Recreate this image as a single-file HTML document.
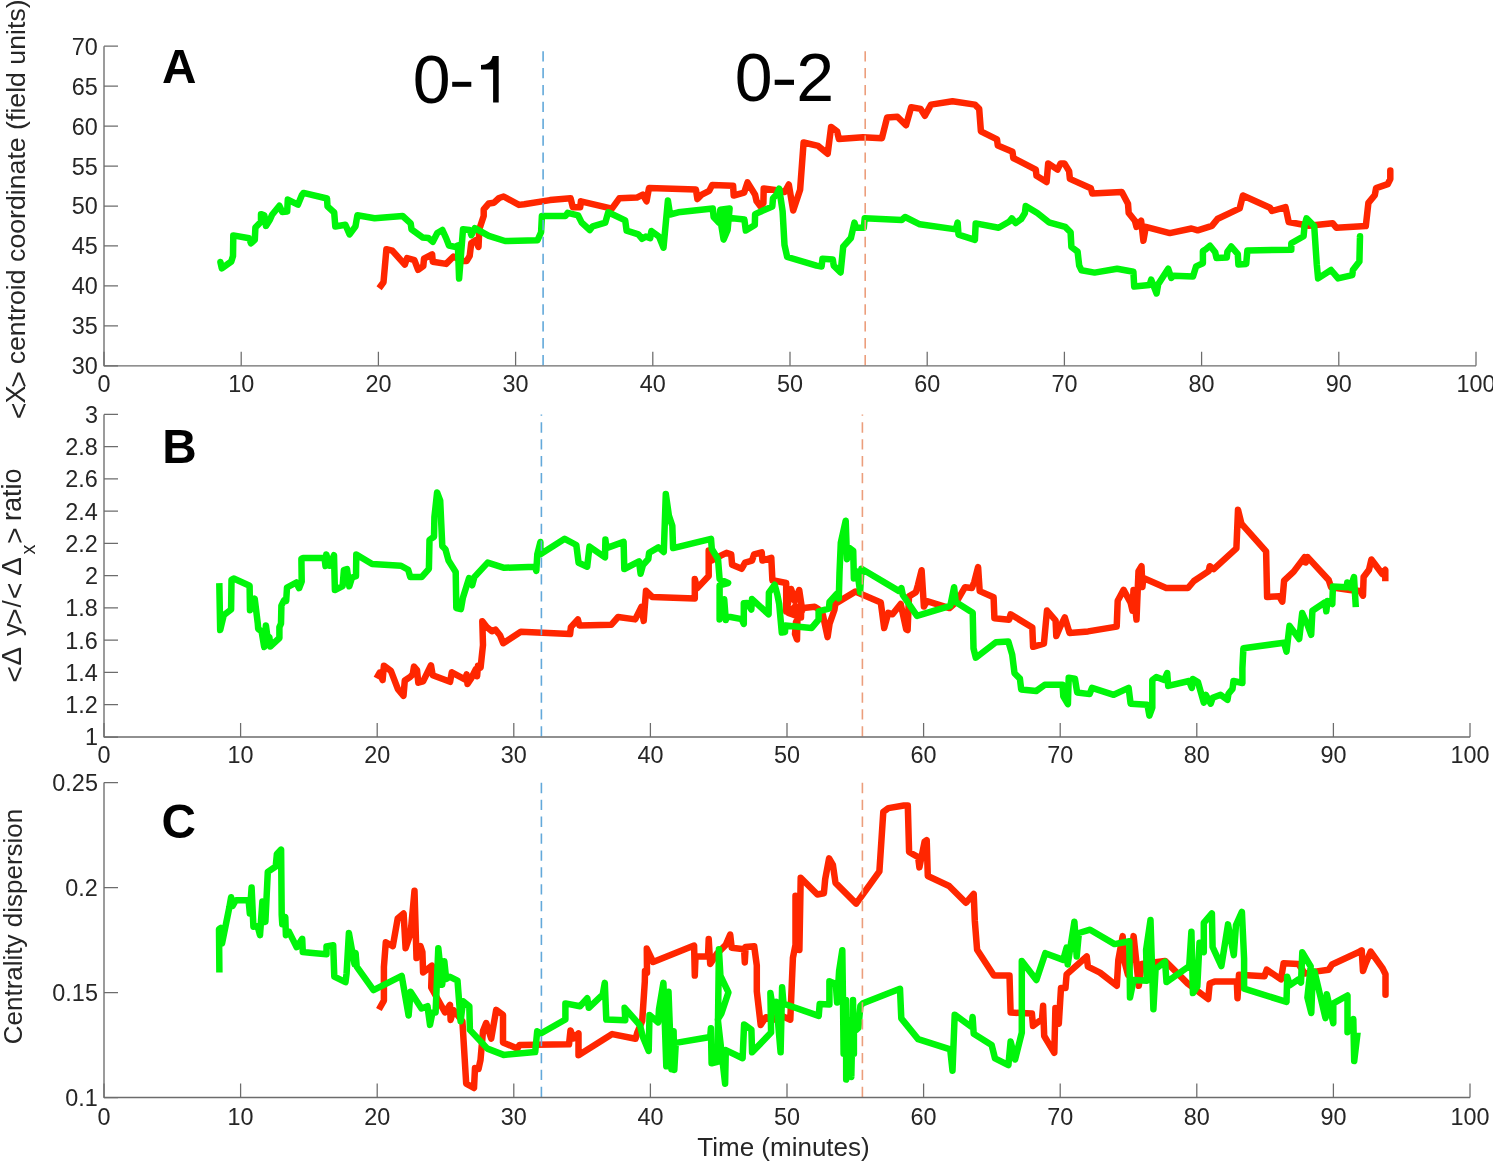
<!DOCTYPE html>
<html><head><meta charset="utf-8"><title>Figure</title>
<style>
html,body{margin:0;padding:0;background:#fff;}
body{width:1493px;height:1162px;overflow:hidden;}
svg{display:block;}
.t{opacity:0.999;}
text{font-family:"Liberation Sans",sans-serif;}
.tk{font-size:23.4px;fill:#262626;}
.ttl{font-size:26px;fill:#262626;}
</style></head><body>
<svg width="1493" height="1162" viewBox="0 0 1493 1162">
<rect width="1493" height="1162" fill="#fff"/>

<polyline points="379.1,288.2 383.5,282.3 386.4,249.2 392.3,250.6 404.8,264.6 407.1,258.0 414.4,260.2 418.1,269.8 423.3,266.1 424.0,258.7 432.1,254.3 432.8,261.7 446.1,263.9 453.5,256.5 462,261 466.7,261.0 469.7,255.8 471.2,243.3 475.6,240.3 478.5,246.9 479.3,229.3 483.7,216.0 483.7,209.4 488.8,203.5 494.0,202.7 499.1,198.0 503.6,196.5 519.0,204.9 524.2,204.2 550,200.1 570.6,198.3 572.8,207.2 580.2,207.2 580.9,201.3 611.9,208.6 619.3,198.3 636.9,197.6 642.8,194.6 646.5,201.3 649.0,188.0 695.9,189.5 697.4,199.1 701.8,194.6 709.2,190.9 712.1,185.1 733.1,185.8 733.7,195.5 744.1,192.7 747.5,182.4 755.1,194.8 756.5,201.0 760.6,206.5 763.4,203.1 763.7,188.6 775.1,190.0 784.7,192.0 788.8,184.5 793.2,210.5 800.1,189.8 803.6,142.5 818.2,145.9 827.7,153.7 831.1,127.0 837.1,131.3 838.9,139.1 863.0,137.3 881.9,138.2 887.1,117.5 897.4,116.7 906.0,125.3 911.2,107.2 920.6,108.9 924.9,115.8 931.0,104.6 952.5,101.2 974.9,104.6 979.2,108.9 980.9,131.3 997.0,139.4 997.8,145.6 1012.5,151.8 1013.3,158.0 1035.8,169.6 1036.5,175.8 1046.6,182.0 1048.2,163.4 1057.5,169.6 1060.6,163.4 1064.4,163.4 1069.1,171.1 1069.9,178.9 1090.8,188.2 1092.3,193.6 1121.8,192.0 1128.0,203.7 1128.7,213.0 1134.9,220.7 1136.5,226.9 1141.1,220.7 1143.4,240.8 1145.8,226.9 1169.8,233.1 1191.5,228.5 1197.7,230.3 1211.9,225.8 1217.8,218.7 1239.7,208.4 1242.9,195.5 1270.0,207.8 1272.0,211.0 1285.5,207.1 1288.7,222.0 1308.8,225.8 1332.6,223.2 1336.5,227.8 1365.8,226.1 1368.4,202.9 1374.8,195.2 1376.1,188.1 1387.7,184.2 1390.3,179.0 1390.3,170.4 1390.3,171.4" fill="none" stroke="#ff2600" stroke-width="6.5" stroke-linejoin="round" stroke-linecap="butt"/>
<polyline points="220.7,263.6 220.4,262.0 221.8,268.4 231.3,261.5 233.0,256.1 233.3,235.4 249.2,238.2 250.9,243.3 254.8,239.9 255.4,227.6 261.0,221.7 261.0,214.2 264.3,215.3 266.0,225.9 269.9,219.8 272.1,214.7 279.4,205.8 282.2,211.9 287.2,211.4 287.8,199.6 297.9,204.7 301.8,195.2 303.5,192.9 327.0,198.5 327.5,206.4 334.2,212.5 335.3,226.5 345.4,224.8 349.6,234.4 355.5,226.3 357.4,215.3 374.6,218.2 402.6,216.0 410.7,223.4 411.5,229.3 422.5,237.4 428.4,238.1 432.8,241.8 437.3,233.0 442.4,230.0 446.1,238.1 449.0,245.5 454.9,246.9 457.9,245.5 459.1,278.6 463.0,229.3 469.7,230.0 471.4,235.2 474.8,228.1 488.8,235.9 505.0,241.0 537.5,240.3 541.1,232.2 541.9,216.0 565.5,216.0 567.7,212.8 578.0,215.3 581.7,222.6 589.8,230.0 592.7,226.3 605.3,222.6 608.2,212.3 625.2,220.4 626.6,230.7 638.4,234.4 642.1,238.8 645.8,236.6 650.2,238.1 651.4,231.0 659.0,236.6 663.5,247.7 667.9,200.5 670.1,214.5 678.2,212.3 712.8,208.6 713.6,217.0 718.8,222.6 720.3,209.6 729.6,208.4 727.6,230 723.6,239.6 721.4,226 724.5,214 727.8,217.8 744.4,219.6 745.8,230.6 754.8,225.1 755.1,214.1 772.3,206.5 773.0,198.2 776.4,194.8 779.2,188.6 782.6,211.3 784.5,245 787.2,257.0 816.5,265.6 821.6,266.5 822.5,258.7 832.8,259.6 833.7,265.6 840.6,272.5 843.2,246.7 850.9,238.0 854.4,222.6 856.1,227.7 863.8,227.7 864.7,218.2 901.7,220.0 905.1,217.0 919.8,224.3 955.9,229.4 957.6,222.6 958.5,234.6 974.9,239.8 975.7,223.4 998.6,227.7 1009.4,221.5 1011.8,218.4 1015.6,223.0 1021.1,219.2 1024.9,213.0 1025.7,206.0 1037.3,213.0 1048.9,222.3 1065.2,226.9 1070.6,232.3 1071.4,247.0 1077.6,251.7 1079.2,265.6 1081.5,270.3 1094.6,272.6 1117.1,268.7 1133.4,271.8 1134.2,286.6 1149.6,285.0 1151.2,279.6 1156.6,293.5 1158.2,284.2 1168.2,268.7 1171.3,278.0 1173.7,275.7 1193.0,276.5 1196.1,266.4 1202.9,263.3 1202.9,251.0 1206.1,249.1 1210.0,245.8 1215.2,252.3 1216.5,258.1 1226.8,257.5 1227.4,251.6 1231.3,246.5 1237.8,254.2 1238.4,264.6 1246.2,263.9 1247.4,250.4 1291.3,249.7 1291.3,243.3 1303.6,236.2 1304.5,226 1306.5,218.4 1314.2,226.1 1316.8,264.8 1318.1,278.4 1331.0,270.0 1338.1,278.4 1352.3,275.2 1352.9,270.0 1359.4,261.6 1360.0,236.3 1359.9,237.3" fill="none" stroke="#00f50a" stroke-width="6.5" stroke-linejoin="round" stroke-linecap="butt"/>
<polyline points="376.5,678.3 379.6,672.7 382.6,680.1 383.9,665.7 390.9,670.9 397.9,689.2 403.5,695.8 404.8,680.5 410.1,677.0 412.7,674.4 414.0,666.6 417.0,670.1 418.3,682.7 423.1,681.4 431.0,665.3 432.7,675.3 450.1,681.8 451.8,672.3 465.3,679.7 466.6,674.4 467.5,684.0 471.0,678.8 475.8,669.2 477.1,676.2 478.0,665.7 480.6,667.5 483.0,645.0 482.3,621.3 486.7,627.0 491.9,631.3 495.4,629.6 500,635.3 503.2,643.2 520.8,631.8 570.1,634.1 570.9,627.1 577.9,619.4 579.4,625.6 611.2,624.8 618.1,617.0 635.2,619.4 641.4,607.0 643.7,620.9 646.0,590.7 652.2,596.9 694.8,598.5 694.8,579.1 697.1,588.4 708.7,576.0 708.7,550.5 711.8,560.5 720.3,555.9 726.5,552.8 731.2,554.3 732.1,564.7 741.7,568.8 745.1,562.6 752.0,560.6 754.1,554.4 761.7,552.3 762.4,560.6 771.3,557.8 772.4,580.3 786.2,583.0 786.2,611.5 791.1,589.0 794.8,601 799.2,590.0 801.3,604 801.0,617.5 788.5,613 795.5,606 797.5,616 797.0,639.5 795.0,634 796,622 803.5,608 814.7,606.8 817.9,608.7 822.8,614.5 827.6,637.1 829.6,623.6 834.4,610.0 835.4,603.6 855.3,591.6 880.8,602.6 884.2,628.0 888.3,612.9 892.5,614.3 900.7,604.0 906.2,629.4 907.6,630.1 909.0,596.4 915.9,592.2 917.9,585 921.6,570.2 923.9,606.6 927.0,601.2 949.5,608.1 956.5,601.9 965.0,587.2 971.9,588.0 974.3,581.8 978.1,567.1 979.7,591.1 993.6,597.3 994.4,618.2 1009.1,619.7 1010.6,614.3 1032.3,627.5 1033.1,646.8 1043.9,643.7 1047.0,610.5 1055.6,620.5 1056.3,636.0 1060.2,626.7 1064.8,617.4 1069.5,632.9 1088.1,631.4 1116.7,626.6 1117.7,600.8 1123.6,589.9 1130.6,602.8 1132.5,610.7 1133.5,589.9 1136.5,619.6 1138.5,571.1 1141.5,566.2 1142.4,587.0 1143.4,578.1 1166.2,588.0 1188.0,588.0 1193.9,581.0 1208.7,571.1 1209.7,566.2 1213.7,569.2 1236.4,548.4 1238.0,509.8 1241.4,523.6 1266.1,551.3 1267.1,596.9 1279.3,596.3 1282.3,601.7 1284.1,580.6 1293.7,571.6 1304.6,557.1 1305.8,562.5 1307.6,557.1 1328.7,580.0 1331.1,587.2 1350,590 1360,591 1363.0,595.7 1363.6,577.0 1369.0,569.8 1371.4,559.5 1382.3,574.0 1385.3,569.8 1385.3,581.2" fill="none" stroke="#ff2600" stroke-width="6.5" stroke-linejoin="round" stroke-linecap="butt"/>
<polyline points="219.3,583.1 220.2,630.1 223.8,615.1 227.2,612.5 231.1,609.5 231.5,579.8 233.7,578.5 249.6,585.8 250.0,610.3 254.7,598.7 257.8,623.7 258.2,628.8 261.6,631.4 264.2,647.0 265.9,625.4 267.3,635.7 269.4,637.3 270.2,646.5 279.4,638.0 279.4,627.1 281.0,623.7 281.4,605.6 284.0,600.4 286.2,600.9 287.0,587.5 296.3,582.5 299.1,588.2 301.7,581.5 301.4,558.8 303.1,558.1 324.5,557.7 325.5,566.1 326.3,554.5 329.5,565.8 334.0,555.2 334.9,590.0 342.6,586.2 343.9,570.1 347.0,569.1 349.3,586.2 352.0,577.5 356.0,576.2 356.3,554.4 372.1,564.1 401.0,565.7 408.2,569.8 410.3,577.1 421.6,577.1 428.9,568.8 429.5,539.9 434.0,536.8 434.4,517.2 437.1,492.4 440.2,500.7 442.3,546.1 445.4,549.2 448.5,560.5 455.7,571.9 456.3,608.0 460.9,609.1 462.9,597.7 469.1,578.1 472.2,585.3 474.3,577.1 487.7,562.6 504.2,567.8 535.2,566.7 536.3,570.9 537.3,554.3 540.4,542.0 540.4,554.3 564.7,538.8 576.3,545.0 578.6,562.8 587.2,566.7 589.5,546.6 605.0,557.4 605.4,539.6 606.5,548.1 623.6,541.9 624.3,569.0 639.0,561.3 640.6,573.7 642.9,565.2 648.3,559.0 649.1,552.8 658.4,547.4 663.8,552.0 665.8,493.9 668.9,515.6 672.3,525.7 673.1,548.1 711.0,538.8 711.8,548.9 718.0,559.0 719.6,579.1 728.1,583.0 719.6,585.3 719.6,619.4 724.2,599.2 725.8,620.1 726.5,616.3 741.7,619.1 743.8,623.9 743.8,603.3 747,603 751.3,609.5 752.0,599.1 768.6,614.3 768.9,592.6 774.7,584.8 777.3,594.5 779.2,604.2 781.8,632.6 785.0,632 785.3,625.5 811.5,628.1 818.6,619.7 818.6,611.3 828.9,608.7 829.5,602 836.7,593.9 838.8,598.4 839.5,573.0 840.8,542.7 845.7,520.7 847.0,559.2 849.8,548.2 853.2,550.9 853.9,578.5 857.4,571.6 860.1,592.2 861.5,568.8 898.7,590.9 901.4,588.1 902.8,595.0 917.0,615.9 950.3,605.8 954.1,587.2 955.7,601.9 972.7,612.8 973.5,648.4 975.8,657.7 995.9,642.2 1008.3,641.4 1012.2,654.6 1014.5,673.2 1019.9,678.6 1021.2,689.4 1036.2,691.0 1044.7,684.8 1062.5,684.8 1063.3,696.4 1067.9,704.1 1068.7,677.8 1074.9,678.6 1077.2,692.5 1089.6,694.1 1092.0,687.9 1113.7,694.8 1128.6,687.9 1130.6,703.7 1147.4,704.7 1149.4,715.6 1152.3,707.7 1152.3,680.0 1156.3,677.0 1164.2,680.0 1167.2,673.1 1168.2,685.9 1189.0,681.0 1191.9,687.9 1192.9,679.0 1197.9,682.0 1203.8,702.7 1205.8,694.8 1210.7,703.7 1212.7,697.8 1220.6,694.8 1227.5,699.8 1228.5,693.8 1232.5,688.9 1233.5,681.0 1242.4,683.0 1242.4,668.1 1243.4,648.3 1284.1,642.7 1286.5,651.7 1289.5,625.8 1299.2,639.0 1302.2,613.1 1307.6,625.2 1311.2,634.8 1312.4,610.7 1325.1,602.3 1326.3,611.3 1327.5,601.1 1332.3,604.1 1332.9,586.6 1346.7,587.2 1347.3,582.4 1350.4,587.8 1354.0,577.0 1355.8,607.1" fill="none" stroke="#00f50a" stroke-width="6.5" stroke-linejoin="round" stroke-linecap="butt"/>
<polyline points="378.9,1009.5 383.9,1000.6 383.9,967.0 385.8,942.2 392.8,946.2 397.7,918.5 403.6,913.5 405.6,948.2 410.6,933.3 414.5,890.8 416.5,958.1 420.5,946.2 422.4,952.1 423.1,972.5 431.9,965.6 431.2,987.5 445.0,1012.4 450.0,1004.9 450.6,1019.9 453.5,1010 462.4,1021.2 466.2,1083.6 474,1088 475,1068 478.5,1069 480.5,1060 483,1031 486.2,1023 491.2,1038.6 496.2,1009.9 503,1014.9 503,1042.4 517.4,1048.6 519.4,1045.1 569.0,1044.3 570.5,1030.4 573.4,1038.5 578.5,1033.4 578.5,1055.3 612.2,1034.1 635.5,1038.8 637.5,1032 642.2,1021 644.8,981.7 645.0,971 647.0,973 646.8,948.6 653.1,962.0 694.1,945.6 694.8,975.6 695.5,956.6 708.0,956.6 708.7,939.0 710.2,963.9 717.0,953.6 725.8,944.9 730.2,934.6 731.7,947.8 744.1,949.2 744.8,962.4 745.6,947.0 754.2,946.2 756.8,965.5 756.8,991.3 760.7,1024.9 765.8,1017.2 773.6,1019.7 778.7,1014.6 790.3,1019.7 792.9,957.8 795.5,944.9 795.5,895.8 799.4,950.0 800.7,877.8 817.4,894.5 823.9,893.3 825.2,879.1 829.1,858.4 832.9,864.9 835.5,882.9 856.2,903.6 879.4,871.3 883.3,811.9 888.4,808.1 903.9,805.5 907.8,805.5 909.1,852.0 918.1,857.1 919.4,867.4 924.6,841.6 926.7,840.1 927.8,876.0 949.1,886.0 965.9,902.8 973.7,893.9 974.8,920.7 977.1,949.8 993.9,975.6 1009.5,975.6 1010.6,1012.5 1031.9,1013.6 1033.0,1025.9 1042.0,1019.2 1043.1,1005.8 1044.2,1036.0 1054.3,1052.8 1055.4,1008.0 1058.8,1023.7 1061.0,987.9 1065.5,987.9 1066.6,974.4 1086.7,956.5 1087.9,966.6 1100,972.6 1116.8,985.8 1118.3,960.2 1122.7,936.1 1124.1,960.2 1128,975 1133.6,936.1 1136.6,964.6 1138.8,985.8 1141.7,963.9 1165.1,960.9 1187.8,983.6 1208.2,999.0 1209.7,983.6 1214.8,981.4 1236.8,981.4 1237.5,998.2 1239.0,974.8 1264.5,976.3 1266.7,969.7 1281.0,979.4 1283.6,963.2 1298.4,963.9 1304.9,973.6 1315.2,971.6 1328.7,969.7 1332.0,964.5 1358.4,952.3 1361.7,950.3 1363.0,971.0 1365.5,963.9 1370.7,951.6 1382.3,967.8 1385.5,974.2 1385.5,994.8 1385.5,993.8" fill="none" stroke="#ff2600" stroke-width="6.5" stroke-linejoin="round" stroke-linecap="butt"/>
<polyline points="219.4,972.5 219.0,929.2 220.8,928.0 222.0,943.6 229.3,907.5 231.1,897.2 232.5,906 235.9,900.2 248.6,900.2 249.8,913.5 251.6,887.6 253.4,926.7 257.6,926.1 260.0,935.2 262.4,901.4 265.4,921.9 267.8,871.9 275.7,866.5 276.9,853.9 281.1,849.6 281.7,914.7 282.3,924.3 285.3,917.1 285.9,935.2 288.9,931.6 296.7,947.2 302.2,938.8 302.8,952.0 310.0,952.7 326.5,954.2 326.5,946.4 333.2,945.3 334.3,976.6 345.5,982.2 346.6,973.3 348.9,933.0 354.5,964.3 355.6,953.1 356.7,966.6 373.5,990.1 401.7,975.9 408.6,1015.5 410.6,991.7 421.5,1008.5 427.5,1006.2 430.0,1024.9 432.5,1012.4 435.6,1012.4 438.3,948.2 442.2,984.8 444.3,961.2 446.2,979 450.0,976.8 457.5,980.6 460.6,1021.2 463.1,1001.2 469.3,1006.2 469.9,1029.9 487.4,1048.6 503.6,1054.9 535.2,1052.1 537.2,1031.3 541.2,1033.3 565.4,1019.5 565.4,1003.4 580.0,1006.3 587.3,998.3 588.8,1007.8 602.7,994.6 604.8,982.9 606.3,1019.5 625.3,1020.2 624.6,1007.8 640.0,1025.3 642.9,1037.0 648.7,1050.9 649.5,1015.1 658.2,1022.4 659.0,1009.2 663.4,982.9 666.3,1066.3 668.5,991.7 671.4,1069.2 673.6,1031.2 674.3,1069.9 675.8,1042.9 710.2,1037.0 710.9,1028.2 711.6,1063.3 717.5,1061.9 718.9,949.3 720.4,975.6 728.4,992.4 721.4,1013.6 717.8,1019.4 725.1,1083.7 725.8,1050.1 742.6,1058.2 744.1,1024.5 751.4,1029.6 752.1,1052.3 771.1,1032.6 770.4,993.1 773.3,1010.6 776.3,1001.9 780.6,1052.3 782.1,987.3 783.6,1004.8 785.2,1004.3 818.7,1015.9 819.7,1003.9 829.4,1004.6 829.4,981.3 835.8,983.9 837.1,1002.6 839.1,971.0 842.3,950.3 843,1000 843.6,1053.7 846,1000 846.2,1079.5 849,1020 851.3,1076.9 853,1000 853.9,1053.7 853.9,1016.2 856,1030 858.4,1027.8 860.4,1005.9 863.0,1003.3 900.0,988.8 901.3,1018.4 918.1,1039.1 950.2,1049.4 952.5,1070.7 954.7,1014.7 971.5,1027.0 972.6,1017.0 973.7,1033.7 991.6,1044.9 995.0,1058.4 1008.4,1065.1 1010.6,1041.6 1015.1,1059.5 1021.8,1032.6 1021.8,961.0 1036.4,980.0 1045.3,953.2 1063.2,959.9 1066.6,947.6 1067.7,964.4 1074.4,921.8 1076.7,956.5 1078.9,933.0 1090.1,929.7 1114.6,944.1 1129.3,941.2 1130.0,997.5 1133.6,980.0 1146.8,980.7 1146.1,950.0 1150.5,920.0 1153.4,1009.2 1155.6,969.0 1165.1,961.7 1166.5,982.1 1189.2,966.1 1191.4,931.7 1192.9,993.1 1197.3,986.5 1199.5,942.7 1203.8,952.2 1203.8,922.9 1211.9,913.4 1212.6,947.0 1221.4,966.1 1228.0,924.4 1233.8,955.1 1236.0,925.1 1241.9,911.9 1244.1,958.7 1244.1,988.7 1286.5,1001.9 1287.2,976.8 1290.0,985.2 1298.4,979.4 1301.0,982.6 1302.3,952.3 1310.7,966.5 1307.4,997.5 1311.3,1013.0 1312.6,976.8 1314.5,971.6 1325.5,1018.1 1326.8,994.2 1333.3,1023.3 1333.3,1003.3 1347.5,995.5 1347.5,1032.3 1353.3,1019.0 1354.2,1061.0 1357.6,1032.4" fill="none" stroke="#00f50a" stroke-width="6.5" stroke-linejoin="round" stroke-linecap="butt"/>
<path d="M543.1,365.8 V46.2" stroke="#63a9da" stroke-width="1.6" stroke-dasharray="10.3 6.58" stroke-dashoffset="-0.5" fill="none"/>
<path d="M865.2,365.8 V46.2" stroke="#ec9e7c" stroke-width="1.6" stroke-dasharray="10.3 6.58" stroke-dashoffset="-0.5" fill="none"/>
<path d="M541.4,737.0 V414.4" stroke="#63a9da" stroke-width="1.6" stroke-dasharray="10.3 6.58" stroke-dashoffset="-0.5" fill="none"/>
<path d="M862.4,737.0 V414.4" stroke="#ec9e7c" stroke-width="1.6" stroke-dasharray="10.3 6.58" stroke-dashoffset="-0.5" fill="none"/>
<path d="M541.4,1097.5 V782.5" stroke="#63a9da" stroke-width="1.6" stroke-dasharray="10.3 6.58" stroke-dashoffset="-0.5" fill="none"/>
<path d="M862.4,1097.5 V782.5" stroke="#ec9e7c" stroke-width="1.6" stroke-dasharray="10.3 6.58" stroke-dashoffset="-0.5" fill="none"/>
<path d="M104.0,46.2 L104.0,365.8 L1476.0,365.8" fill="none" stroke="#6c6c6c" stroke-width="1.35" stroke-linejoin="round"/>
<path d="M104.0,365.80h14 M104.0,325.85h14 M104.0,285.90h14 M104.0,245.95h14 M104.0,206.00h14 M104.0,166.05h14 M104.0,126.10h14 M104.0,86.15h14 M104.0,46.20h14 M104.00,365.8v-14 M241.20,365.8v-14 M378.40,365.8v-14 M515.60,365.8v-14 M652.80,365.8v-14 M790.00,365.8v-14 M927.20,365.8v-14 M1064.40,365.8v-14 M1201.60,365.8v-14 M1338.80,365.8v-14 M1476.00,365.8v-14" fill="none" stroke="#6c6c6c" stroke-width="1.25"/>
<path d="M104.0,414.4 L104.0,737.0 L1470.0,737.0" fill="none" stroke="#6c6c6c" stroke-width="1.35" stroke-linejoin="round"/>
<path d="M104.0,737.00h14 M104.0,704.74h14 M104.0,672.48h14 M104.0,640.22h14 M104.0,607.96h14 M104.0,575.70h14 M104.0,543.44h14 M104.0,511.18h14 M104.0,478.92h14 M104.0,446.66h14 M104.0,414.40h14 M104.00,737.0v-14 M240.60,737.0v-14 M377.20,737.0v-14 M513.80,737.0v-14 M650.40,737.0v-14 M787.00,737.0v-14 M923.60,737.0v-14 M1060.20,737.0v-14 M1196.80,737.0v-14 M1333.40,737.0v-14 M1470.00,737.0v-14" fill="none" stroke="#6c6c6c" stroke-width="1.25"/>
<path d="M104.0,782.5 L104.0,1097.5 L1470.0,1097.5" fill="none" stroke="#6c6c6c" stroke-width="1.35" stroke-linejoin="round"/>
<path d="M104.0,1097.50h14 M104.0,992.50h14 M104.0,887.50h14 M104.0,782.50h14 M104.00,1097.5v-14 M240.60,1097.5v-14 M377.20,1097.5v-14 M513.80,1097.5v-14 M650.40,1097.5v-14 M787.00,1097.5v-14 M923.60,1097.5v-14 M1060.20,1097.5v-14 M1196.80,1097.5v-14 M1333.40,1097.5v-14 M1470.00,1097.5v-14" fill="none" stroke="#6c6c6c" stroke-width="1.25"/>
<g class="t">
<text class="tk" x="97.9" y="374.2" text-anchor="end">30</text>
<text class="tk" x="97.9" y="334.2" text-anchor="end">35</text>
<text class="tk" x="97.9" y="294.3" text-anchor="end">40</text>
<text class="tk" x="97.9" y="254.3" text-anchor="end">45</text>
<text class="tk" x="97.9" y="214.4" text-anchor="end">50</text>
<text class="tk" x="97.9" y="174.5" text-anchor="end">55</text>
<text class="tk" x="97.9" y="134.5" text-anchor="end">60</text>
<text class="tk" x="97.9" y="94.5" text-anchor="end">65</text>
<text class="tk" x="97.9" y="54.6" text-anchor="end">70</text>
<text class="tk" x="104.0" y="391.9" text-anchor="middle">0</text>
<text class="tk" x="241.2" y="391.9" text-anchor="middle">10</text>
<text class="tk" x="378.4" y="391.9" text-anchor="middle">20</text>
<text class="tk" x="515.6" y="391.9" text-anchor="middle">30</text>
<text class="tk" x="652.8" y="391.9" text-anchor="middle">40</text>
<text class="tk" x="790.0" y="391.9" text-anchor="middle">50</text>
<text class="tk" x="927.2" y="391.9" text-anchor="middle">60</text>
<text class="tk" x="1064.4" y="391.9" text-anchor="middle">70</text>
<text class="tk" x="1201.6" y="391.9" text-anchor="middle">80</text>
<text class="tk" x="1338.8" y="391.9" text-anchor="middle">90</text>
<text class="tk" x="1476.0" y="391.9" text-anchor="middle">100</text>
<text class="tk" x="97.9" y="745.4" text-anchor="end">1</text>
<text class="tk" x="97.9" y="713.1" text-anchor="end">1.2</text>
<text class="tk" x="97.9" y="680.9" text-anchor="end">1.4</text>
<text class="tk" x="97.9" y="648.6" text-anchor="end">1.6</text>
<text class="tk" x="97.9" y="616.4" text-anchor="end">1.8</text>
<text class="tk" x="97.9" y="584.1" text-anchor="end">2</text>
<text class="tk" x="97.9" y="551.8" text-anchor="end">2.2</text>
<text class="tk" x="97.9" y="519.6" text-anchor="end">2.4</text>
<text class="tk" x="97.9" y="487.3" text-anchor="end">2.6</text>
<text class="tk" x="97.9" y="455.1" text-anchor="end">2.8</text>
<text class="tk" x="97.9" y="422.8" text-anchor="end">3</text>
<text class="tk" x="104.0" y="762.9" text-anchor="middle">0</text>
<text class="tk" x="240.6" y="762.9" text-anchor="middle">10</text>
<text class="tk" x="377.2" y="762.9" text-anchor="middle">20</text>
<text class="tk" x="513.8" y="762.9" text-anchor="middle">30</text>
<text class="tk" x="650.4" y="762.9" text-anchor="middle">40</text>
<text class="tk" x="787.0" y="762.9" text-anchor="middle">50</text>
<text class="tk" x="923.6" y="762.9" text-anchor="middle">60</text>
<text class="tk" x="1060.2" y="762.9" text-anchor="middle">70</text>
<text class="tk" x="1196.8" y="762.9" text-anchor="middle">80</text>
<text class="tk" x="1333.4" y="762.9" text-anchor="middle">90</text>
<text class="tk" x="1470.0" y="762.9" text-anchor="middle">100</text>
<text class="tk" x="97.9" y="1105.9" text-anchor="end">0.1</text>
<text class="tk" x="97.9" y="1000.9" text-anchor="end">0.15</text>
<text class="tk" x="97.9" y="895.9" text-anchor="end">0.2</text>
<text class="tk" x="97.9" y="790.9" text-anchor="end">0.25</text>
<text class="tk" x="104.0" y="1124.6" text-anchor="middle">0</text>
<text class="tk" x="240.6" y="1124.6" text-anchor="middle">10</text>
<text class="tk" x="377.2" y="1124.6" text-anchor="middle">20</text>
<text class="tk" x="513.8" y="1124.6" text-anchor="middle">30</text>
<text class="tk" x="650.4" y="1124.6" text-anchor="middle">40</text>
<text class="tk" x="787.0" y="1124.6" text-anchor="middle">50</text>
<text class="tk" x="923.6" y="1124.6" text-anchor="middle">60</text>
<text class="tk" x="1060.2" y="1124.6" text-anchor="middle">70</text>
<text class="tk" x="1196.8" y="1124.6" text-anchor="middle">80</text>
<text class="tk" x="1333.4" y="1124.6" text-anchor="middle">90</text>
<text class="tk" x="1470.0" y="1124.6" text-anchor="middle">100</text>
<text x="162" y="82.6" style="font-size:47.7px;font-weight:bold;fill:#000">A</text>
<text x="162.2" y="463.1" style="font-size:47.7px;font-weight:bold;fill:#000">B</text>
<text x="161.4" y="838.1" style="font-size:47.7px;font-weight:bold;fill:#000">C</text>
<text x="412.7" y="103.1" style="font-size:68px;fill:#000">0</text>
<rect x="452.2" y="81.8" width="19.1" height="5.0" fill="#000"/>
<path d="M498.7,56 L498.7,102.6 L493.1,102.6 L493.1,69.4 L481,69.4 L481,65.1 C487,64.8 491.5,62 492.6,56 Z" fill="#000"/>
<text x="734.7" y="101.0" style="font-size:68px;fill:#000">0</text>
<rect x="774.7" y="79.7" width="19.3" height="5.2" fill="#000"/>
<text x="796.3" y="101.0" style="font-size:68px;fill:#000">2</text>
<text class="ttl" x="783.5" y="1156" text-anchor="middle">Time (minutes)</text>
<g transform="translate(25.3,419) rotate(-90)"><text class="ttl" x="0" y="3" style="font-size:28px">&lt;</text><text class="ttl" x="15.4" y="0" style="font-size:27px">X</text><text class="ttl" x="31.6" y="3" style="font-size:28px">&gt;</text><text class="ttl" x="54.7" y="0" style="font-size:26.7px">centroid coordinate (field units)</text></g>
<g transform="translate(21.1,682) rotate(-90)"><text class="ttl" x="-0.6" y="3" style="font-size:28px">&lt;</text><text class="ttl" x="16.4" y="0" style="font-size:28px">&#916;</text><text class="ttl" x="45.9" y="0">y</text><text class="ttl" x="57.3" y="3" style="font-size:28px">&gt;</text><text class="ttl" x="74.6" y="0">/</text><text class="ttl" x="83.1" y="3" style="font-size:28px">&lt;</text><text class="ttl" x="106.3" y="0" style="font-size:28px">&#916;</text><text class="ttl" x="127.5" y="13.5" style="font-size:20px">x</text><text class="ttl" x="138.3" y="3" style="font-size:28px">&gt;</text><text class="ttl" x="161.1" y="0" style="font-size:27px">ratio</text></g>
<text class="ttl" transform="translate(22.4,926.5) rotate(-90)" text-anchor="middle">Centrality dispersion</text>
</g>
</svg>
</body></html>
